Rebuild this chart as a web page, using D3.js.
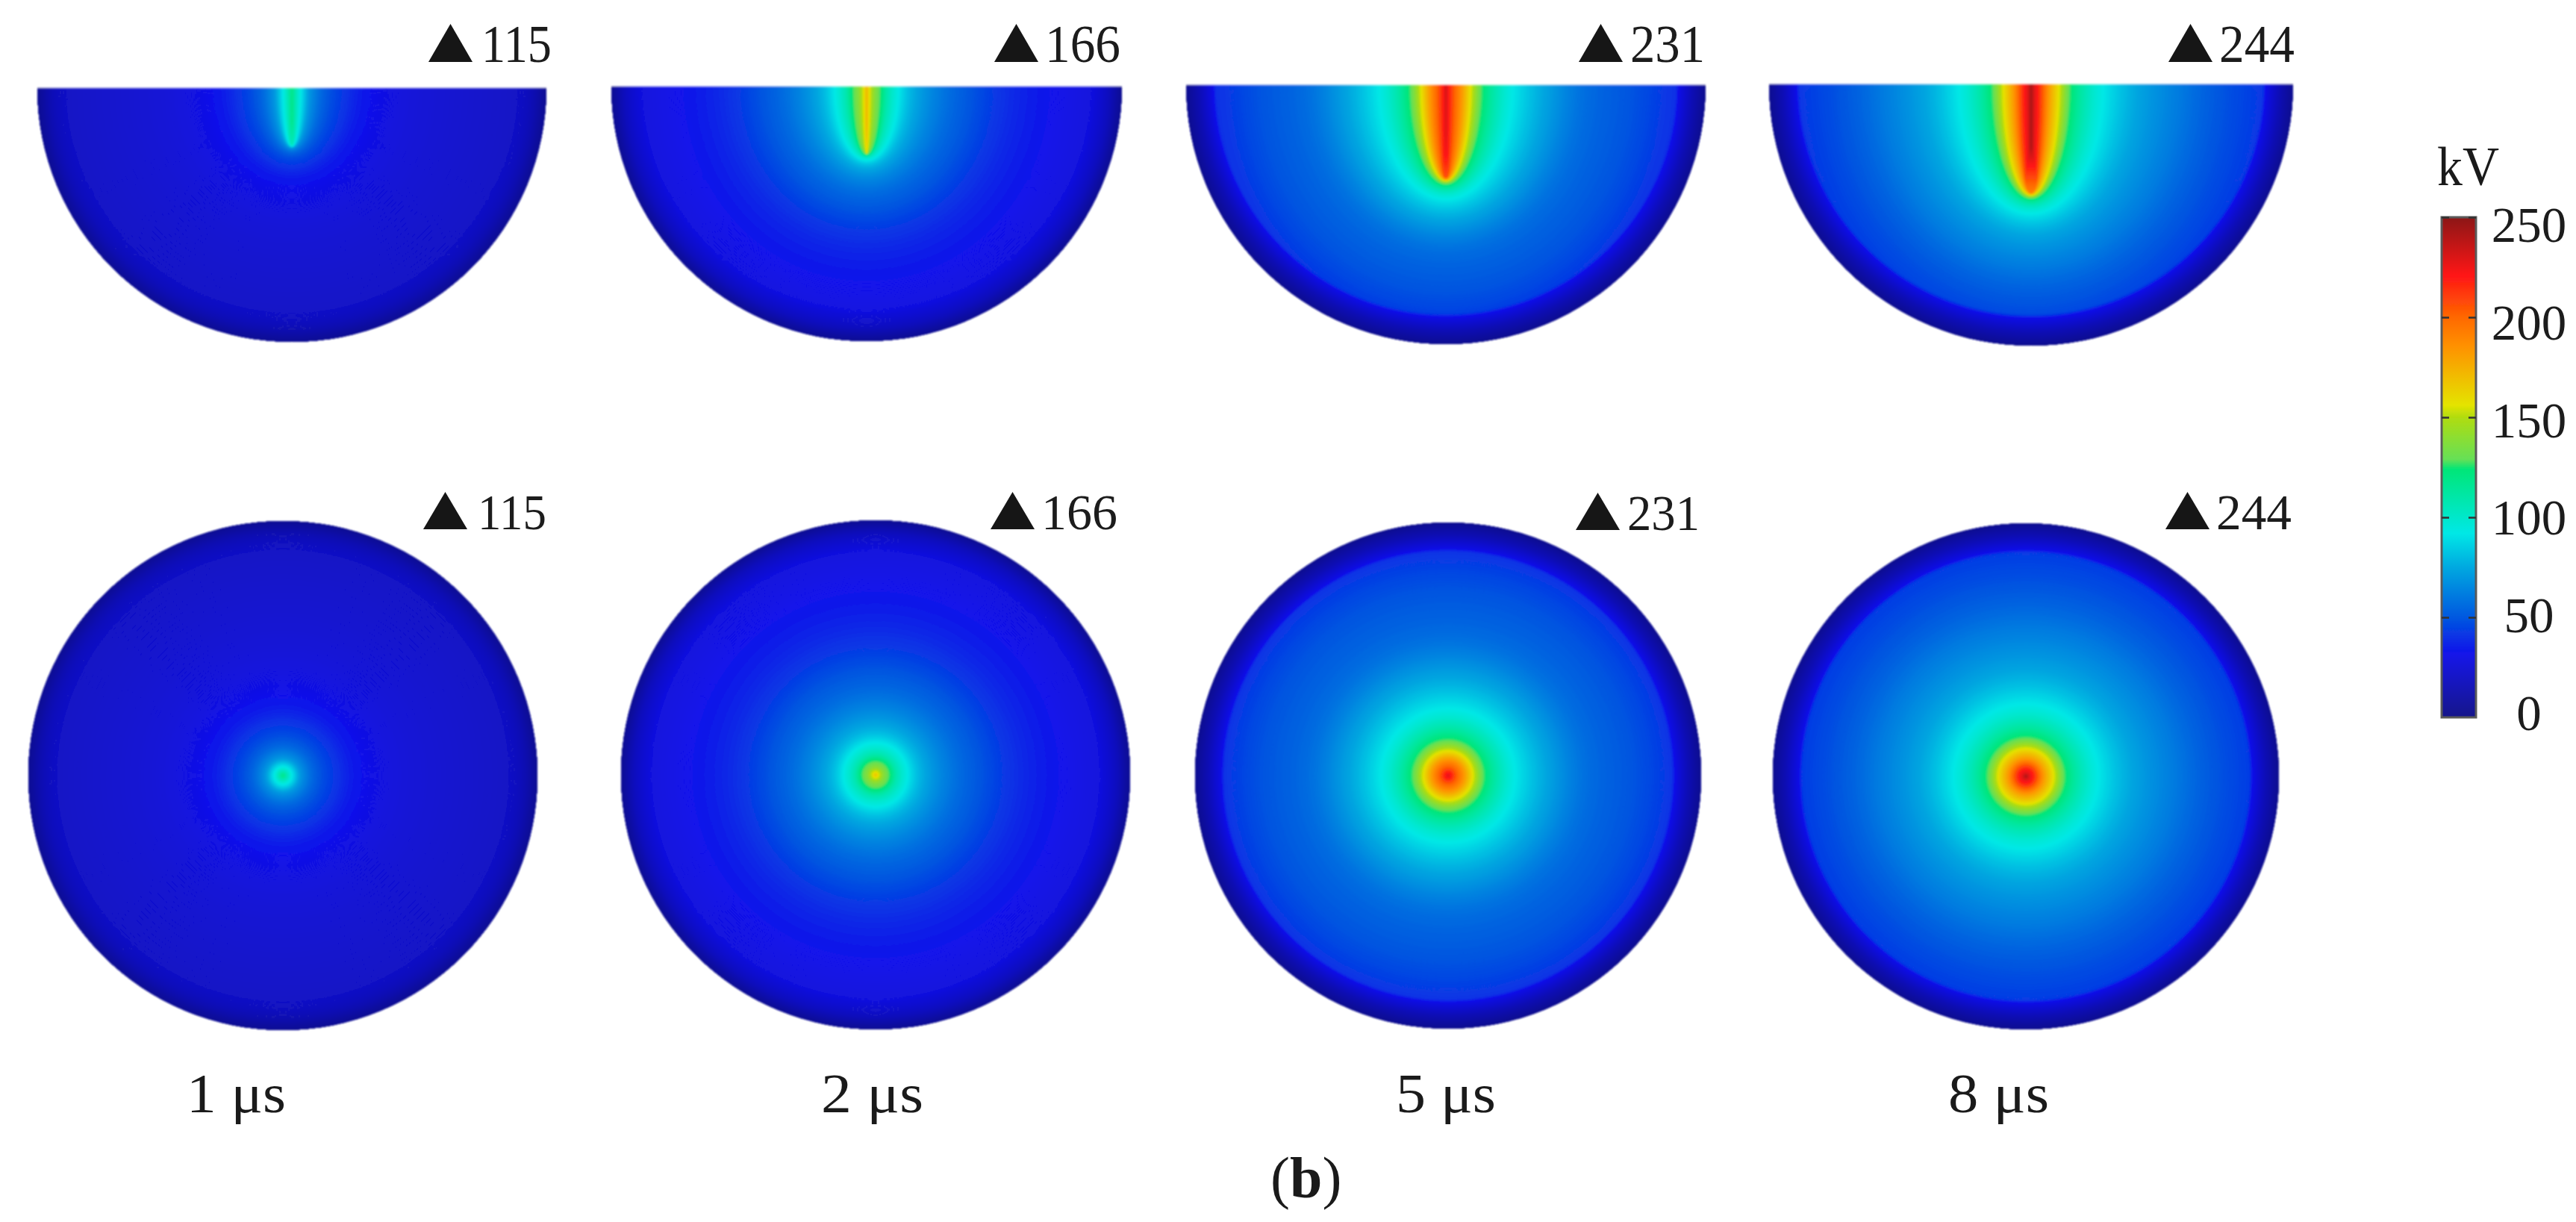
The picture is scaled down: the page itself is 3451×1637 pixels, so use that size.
<!DOCTYPE html>
<html><head><meta charset="utf-8">
<style>html,body{margin:0;padding:0;background:#fff}svg{display:block}text{font-family:"Liberation Serif",serif;fill:#1a1a1a}</style>
<script src="https://cdn.jsdelivr.net/npm/d3@7"></script></head><body>
<svg id="c" width="3451" height="1637" xmlns="http://www.w3.org/2000/svg"></svg>
<script>
// ---- data ----
const timeLabels = ["1 μs","2 μs","5 μs","8 μs"];
const peakLabels = ["115","166","231","244"];
const colorTicks = [0,50,100,150,200,250];
// potential (kV) against lateral distance (px) from the discharge channel
const dist1us = [0,3,8,14,25,50,75,100,150,200,250,300,345];
const kv1us   = [120,112,100,88,68,49,40,33,27,24,22,20,18];
const dist2us = [0,3,10,18,28,42,60,100,137,190,250,300,345];
const kv2us   = [172,160,140,127,108,93,78,60,50,39,32,28,26];
const dist5us = [0,3,10,20,33,48,70,88,138,186,262,300,345];
const kv5us   = [232,222,205,186,157,127,105,93,72,57,47,41,36];
const dist8us = [0,3,8,15,25,37,52,75,95,140,198,250,300,345];
const kv8us   = [246,232,222,205,180,157,127,105,93,75,61,50,43,38];
const channelLength = [78,90,125,145];                // px depth of the channel in the section view
// on-axis potential along the channel (fraction of its depth -> kV)
const axisFrac = [0,0.55,0.75,1];
const axisKv1 = [120,118,112,104];
const axisKv2 = [172,172,168,160];
const axisKv3 = [232,228,222,206];
const axisKv4 = [246,244,222,192];
// low-potential rim close to the ground boundary (fraction of radius -> kV)
const rimFrac = [0.8,0.87,0.895,0.95,1];
const rimKv1 = [120,40,24,14,3];
const rimKv2 = [120,45,28,17,3];
const rimKv3 = [120,60,31,14,2];
const rimKv4 = [120,60,31,14,2];
const rimSoftness = [3,3,0.8,0.8];
// colour map
const cmapValues = [0,32,50,75,92,124,129,150,156,186,200,221,250];
const cmapColors = ["#12128a","#1212ea","#0058e0","#00a8e0","#00e8e6","#00e678","#66e056","#b0dc10","#e4e400","#ff9000","#ff6800","#ff1515","#8b1414"];

// ---- layout ----
const topPanels = [{cx:391,y:117,r:341},{cx:1161,y:115,r:342},{cx:1937,y:113,r:348},{cx:2721,y:112,r:351}];
const botPanels = [{cx:379,y:1039,r:341},{cx:1173,y:1038,r:341},{cx:1940,y:1039,r:339},{cx:2714,y:1040,r:339}];
const topTags = [{l:574,t:645,e:739,b:83},{l:1332,t:1400,e:1501,b:83},{l:2115,t:2184,e:2284,b:83},{l:2905,t:2973,e:3074,b:83}];
const botTags = [{l:567,t:640,e:732,b:709},{l:1327,t:1395,e:1497,b:709},{l:2111,t:2180,e:2277,b:710},{l:2901,t:2969,e:3070,b:709}];
const timePos = [{l:250,e:383},{l:1100,e:1237},{l:1870,e:2004},{l:2610,e:2745}];

// smooth monotone curve through the read-off profile points
function monotone(xs,ys){
  const n=xs.length, m=[], t=new Array(n);
  for(let i=0;i<n-1;i++) m[i]=(ys[i+1]-ys[i])/(xs[i+1]-xs[i]);
  t[0]=m[0]; t[n-1]=m[n-2];
  for(let i=1;i<n-1;i++) t[i]=m[i-1]*m[i]<=0?0:2*m[i-1]*m[i]/(m[i-1]+m[i]);
  const bis=d3.bisector(d=>d).right;
  return x=>{
    if(x<=xs[0]) return ys[0];
    if(x>=xs[n-1]) return ys[n-1];
    const i=bis(xs,x)-1, h=xs[i+1]-xs[i], s=(x-xs[i])/h;
    const s2=s*s, s3=s2*s;
    return (2*s3-3*s2+1)*ys[i]+(s3-2*s2+s)*h*t[i]+(-2*s3+3*s2)*ys[i+1]+(s3-s2)*h*t[i+1];
  };
}
function softMin(a,b,k){
  const lo=Math.min(a,b);
  return lo-k*Math.log(Math.exp(-(a-lo)/k)+Math.exp(-(b-lo)/k));
}
const profiles = [[dist1us,kv1us],[dist2us,kv2us],[dist5us,kv5us],[dist8us,kv8us]].map(([d,k])=>monotone(d,k));
const axisCaps = [axisKv1,axisKv2,axisKv3,axisKv4].map(k=>d3.scaleLinear().domain(axisFrac).range(k).clamp(true));
const rims = [rimKv1,rimKv2,rimKv3,rimKv4].map(k=>d3.scaleLinear().domain(rimFrac).range(k).clamp(true));
const color = d3.scaleLinear().domain(cmapValues).range(cmapColors).interpolate(d3.interpolateRgb).clamp(true);

const svg = d3.select("#c");
const defs = svg.append("defs");
defs.append("filter").attr("id","soft").attr("x","-5%").attr("y","-5%").attr("width","110%").attr("height","110%")
  .append("feGaussianBlur").attr("stdDeviation",1.1);
defs.append("filter").attr("id","softT").attr("x","-5%").attr("y","-5%").attr("width","110%").attr("height","110%")
  .append("feGaussianBlur").attr("stdDeviation",0.6);

const CELL = 2;
function drawPanel(p,i,isTop){
  const L = isTop ? channelLength[i] : 0;
  const R = p.r;
  const yMin = isTop ? -4 : -R-4, yMax = R+4, xMin=-R-4, xMax=R+4;
  const nx = Math.ceil((xMax-xMin)/CELL)+1, ny = Math.ceil((yMax-yMin)/CELL)+1;
  const gx = d3.scaleLinear().domain([0,nx-1]).range([xMin,xMin+(nx-1)*CELL]);
  const gy = d3.scaleLinear().domain([0,ny-1]).range([yMin,yMin+(ny-1)*CELL]);
  const vals = new Array(nx*ny);
  for(let j=0;j<ny;j++){ const y=gy(j);
    for(let k=0;k<nx;k++){ const x=gx(k);
      let v;
      const rr=Math.hypot(x,y)/R;
      if(isTop){
        const a=(Math.hypot(x,y-L)+Math.hypot(x,y+L))/2;
        const b=Math.sqrt(Math.max(0,a*a-L*L));
        v=Math.min(profiles[i](b),axisCaps[i](Math.abs(y)/L));
      } else {
        v=Math.min(profiles[i](rr*R),axisCaps[i](0));
      }
      if(rr>rimFrac[0]) v=softMin(v,rims[i](rr),rimSoftness[i]);
      vals[j*nx+k]=v;
    }
  }
  const peak=d3.max(vals);
  const levels=d3.range(0,60,0.25).concat(d3.range(60,Math.ceil(peak),1));
  const contours=d3.contours().size([nx,ny]).thresholds(levels)(vals);
  const proj=d3.geoTransform({point(x,y){this.stream.point(gx(x-0.5),gy(y-0.5));}});
  const path=d3.geoPath(proj);
  if(path.digits) path.digits(1);
  const id=`clip${isTop?"T":"B"}${i}`;
  const cp=defs.append("clipPath").attr("id",id);
  if(isTop){
    const arc=d3.arc()({innerRadius:0,outerRadius:R,startAngle:Math.PI/2,endAngle:3*Math.PI/2});
    cp.append("path").attr("d",arc);
  } else cp.append("circle").attr("r",R);
  const g=svg.append("g").attr("filter","url(#soft)").attr("transform",`translate(${p.cx},${p.y})`)
    .attr("class","panel");
  const inner=g.append("g").attr("clip-path",`url(#${id})`);
  inner.selectAll("path").data(contours.filter(c=>c.coordinates.length)).join("path")
    .attr("d",path).attr("fill",d=>color(d.value+(d.value<60?0.125:0.5)));
  if(isTop){
    g.append("rect").attr("x",-R).attr("y",-1).attr("width",2*R).attr("height",2.5).attr("fill","#fff").attr("opacity",0.5);
  }
}
topPanels.forEach((p,i)=>drawPanel(p,i,true));
botPanels.forEach((p,i)=>drawPanel(p,i,false));

// ---- peak tags ----
function tag(t,i,size,h){
  const g=svg.append("g").attr("filter","url(#softT)");
  g.append("path").attr("fill","#141414")
   .attr("d",d3.line()([[t.l,t.b],[t.l+29.5,t.b-h],[t.l+59,t.b]])+"Z");
  g.append("text").attr("x",t.t).attr("y",t.b).attr("font-size",size)
   .attr("textLength",t.e-t.t).attr("lengthAdjust","spacingAndGlyphs").text(peakLabels[i]);
}
topTags.forEach((t,i)=>tag(t,i,71,51));
botTags.forEach((t,i)=>tag(t,i,67,50));

// ---- time labels & caption ----
svg.append("g").attr("class","times").selectAll("text").data(timeLabels).join("text")
  .attr("x",(d,i)=>timePos[i].l).attr("y",1490).attr("font-size",73)
  .attr("textLength",(d,i)=>timePos[i].e-timePos[i].l).attr("lengthAdjust","spacingAndGlyphs")
  .text(d=>d);
const cap=svg.append("text").attr("x",1702).attr("y",1604).attr("font-size",78);
cap.append("tspan").text("(");
cap.append("tspan").attr("font-weight","bold").text("b");
cap.append("tspan").text(")");

// ---- colour bar ----
const barX=3271, barW=46, barTop=291, barBot=961;
const barScale=d3.scaleLinear().domain([0,250]).range([barBot,barTop]);
const grad=defs.append("linearGradient").attr("id","cbar").attr("x1",0).attr("x2",0).attr("y1",1).attr("y2",0);
grad.selectAll("stop").data(cmapValues).join("stop")
  .attr("offset",d=>d/250).attr("stop-color",(d,i)=>cmapColors[i]);
const bar=svg.append("g").attr("filter","url(#softT)");
bar.append("rect").attr("x",barX).attr("y",barTop).attr("width",barW).attr("height",barBot-barTop)
  .attr("fill","url(#cbar)").attr("stroke","#5a5a5a").attr("stroke-width",3);
const tickVals=colorTicks.filter(v=>v>0);
const axL=bar.append("g").attr("transform",`translate(${barX+10},0)`)
  .call(d3.axisLeft(barScale).tickValues(tickVals).tickSize(10).tickFormat(""));
const axR=bar.append("g").attr("transform",`translate(${barX+barW-10},0)`)
  .call(d3.axisRight(barScale).tickValues(tickVals).tickSize(10).tickFormat(""));
[axL,axR].forEach(a=>{a.select(".domain").remove();a.selectAll("line").attr("stroke","#333").attr("stroke-width",2.5);});
const labelY=d3.scaleLinear().domain([0,250]).range([978,324]);
svg.append("g").attr("filter","url(#softT)").selectAll("text").data(colorTicks).join("text")
  .attr("x",3388).attr("y",d=>labelY(d)).attr("text-anchor","middle").attr("font-size",67)
  .text(d=>d);
svg.append("text").attr("x",3265).attr("y",248).attr("font-size",74)
  .attr("textLength",83).attr("lengthAdjust","spacingAndGlyphs").text("kV");
</script></body></html>
